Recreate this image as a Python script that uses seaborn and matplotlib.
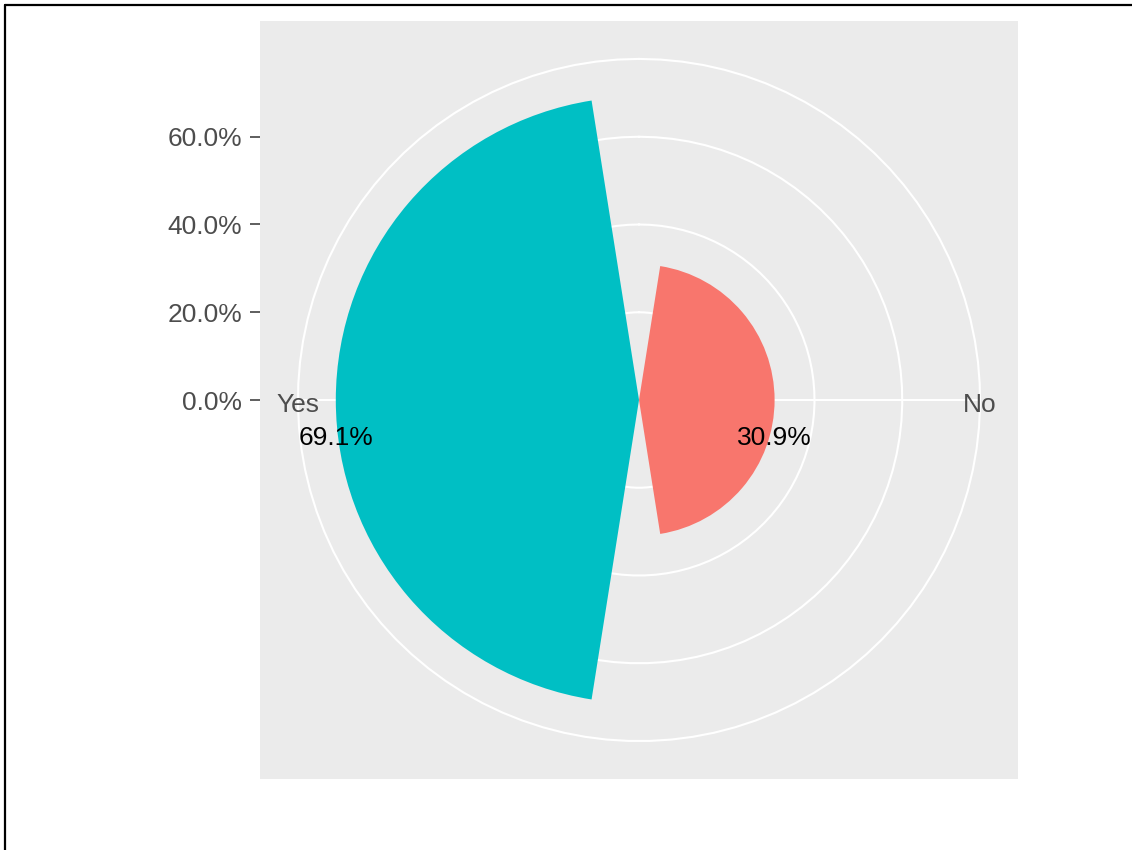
#!/usr/bin/env python3
"""
Polar bar (rose) chart of Yes/No answer shares, ggplot2 coord_polar look.
"""

import numpy as np
import pandas as pd
import matplotlib
matplotlib.use('Agg')
import matplotlib.pyplot as plt
from matplotlib.lines import Line2D
import seaborn as sns

# data
categories = ['No', 'Yes']
shares = [0.309, 0.691]
share_labels = ['30.9%', '69.1%']
fill_colors = ['#F8766D', '#00BFC4']
r_breaks = [0.0, 0.2, 0.4, 0.6]
r_break_labels = ['0.0%', '20.0%', '40.0%', '60.0%']

W, H = 1132, 850
PANEL = (260, 21, 758, 758)  # left, top, width, height in pixels


def make_chart():
    sns.set_theme(style='white')
    plt.rcParams['font.family'] = ['Liberation Sans', 'DejaVu Sans']

    fig = plt.figure(figsize=(W / 100, H / 100), dpi=100)
    fig.patch.set_facecolor('white')

    left, top, pw, ph = PANEL
    rect = [left / W, 1 - (top + ph) / H, pw / W, ph / H]

    n = len(categories)
    # ggplot maps r range [0, max] onto 0..0.4 of the panel, panel half-size is 0.5
    r_max = max(shares)
    r_edge = r_max * 0.5 / 0.4
    r_outer = r_max * 0.45 / 0.4

    # background panel with the radius axis on the left
    ax_bg = fig.add_axes(rect)
    ax_bg.set_facecolor('#EBEBEB')
    ax_bg.set_xlim(-r_edge, r_edge)
    ax_bg.set_ylim(-r_edge, r_edge)
    ax_bg.set_xticks([])
    ax_bg.set_yticks(r_breaks)
    ax_bg.set_yticklabels(r_break_labels)
    ax_bg.tick_params(axis='y', length=7.2, width=1.1, color='#333333',
                      labelcolor='#4D4D4D', labelsize=19, pad=5.8, left=True)
    for spine in ax_bg.spines.values():
        spine.set_visible(False)

    # polar layer on top
    ax = fig.add_axes(rect, projection='polar')
    ax.set_facecolor('none')
    ax.set_theta_zero_location('N')
    ax.set_theta_direction(-1)

    theta = [(i + 0.5) * 2 * np.pi / n for i in range(n)]
    df = pd.DataFrame({'theta': theta, 'share': shares, 'answer': categories})

    # grid: circles at the r breaks plus the outer ring, radial lines per category
    thetafine = np.linspace(0, 2 * np.pi, 100)
    for r in [b for b in r_breaks if b > 0] + [r_outer]:
        ax.plot(thetafine, np.full_like(thetafine, r), color='white', lw=1.5, zorder=1)
    for t in theta:
        ax.plot([t, t], [0, r_outer], color='white', lw=1.5, zorder=1)

    sns.barplot(data=df, x='theta', y='share', hue='answer', hue_order=categories,
                palette=dict(zip(categories, fill_colors)), native_scale=True,
                width=0.9, saturation=1, errorbar=None, legend=False, ax=ax,
                linewidth=0, edgecolor='none', zorder=2)

    ax.set_rlim(0, r_edge)
    ax.grid(False)
    ax.set_xticks([])
    ax.set_yticks([])
    ax.set_xlabel('')
    ax.set_ylabel('')
    ax.spines['polar'].set_visible(False)

    # category labels on the outer ring
    for t, cat in zip(theta, categories):
        ax.annotate(cat, (t, r_outer), xytext=(0, -5), textcoords='offset pixels',
                    ha='center', va='center', fontsize=19, color='#4D4D4D')

    # value labels at the bar ends, nudged down
    for t, s, lab in zip(theta, shares, share_labels):
        ax.annotate(lab, (t, s), xytext=(0, -38), textcoords='offset pixels',
                    ha='center', va='center', fontsize=19, color='black', zorder=3)

    # frame lines around the image
    fig.add_artist(Line2D([5 / W, 1], [1 - 5 / H, 1 - 5 / H], color='black', lw=1.6,
                          transform=fig.transFigure))
    fig.add_artist(Line2D([5 / W, 5 / W], [0, 1 - 5 / H], color='black', lw=1.6,
                          transform=fig.transFigure))

    fig.savefig('out.png', dpi=100, facecolor='white')


if __name__ == '__main__':
    make_chart()
